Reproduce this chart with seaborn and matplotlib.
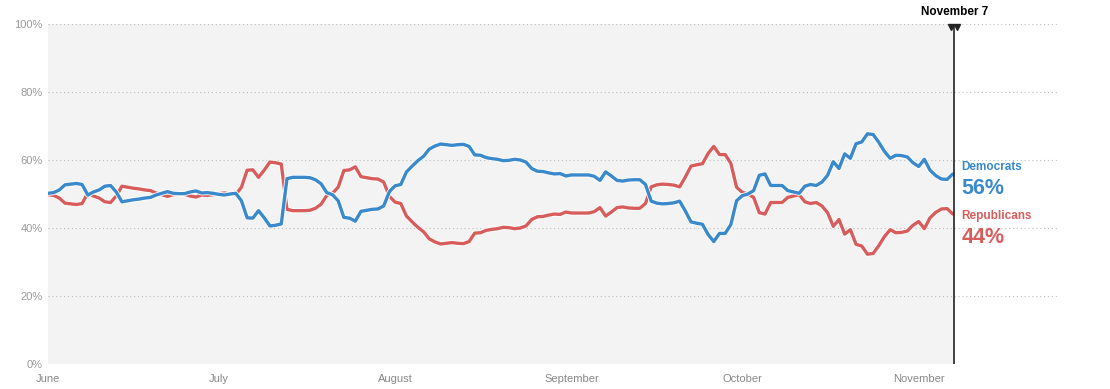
import numpy as np
import pandas as pd
import seaborn as sns
import matplotlib.pyplot as plt
import matplotlib.dates as mdates
import matplotlib.patheffects as pe

# daily share for Democrats, June 1 -> November 7
dem_share = [
    50.2, 50.4, 51.2, 52.7, 52.9, 53.1, 52.8, 49.7, 50.6, 51.2,
    52.3, 52.5, 50.6, 47.7, 48.0, 48.3, 48.5, 48.8, 49.0, 49.7,
    50.2, 50.7, 50.2, 50.1, 50.1, 50.6, 50.9, 50.3, 50.4, 50.2,
    49.9, 49.7, 50.0, 50.2, 48.0, 43.0, 42.9, 45.1, 43.0, 40.6,
    40.8, 41.2, 54.5, 54.9, 54.9, 54.9, 54.8, 54.2, 53.0, 50.4,
    49.8, 48.0, 43.1, 42.9, 42.0, 44.9, 45.2, 45.5, 45.6, 46.5,
    50.7, 52.4, 52.8, 56.5, 58.2, 59.8, 61.1, 63.2, 64.1, 64.7,
    64.5, 64.3, 64.5, 64.6, 64.0, 61.5, 61.4, 60.7, 60.4, 60.2,
    59.8, 59.9, 60.2, 60.0, 59.4, 57.5, 56.7, 56.6, 56.2, 55.9,
    56.0, 55.3, 55.6, 55.6, 55.6, 55.6, 55.2, 54.0, 56.5, 55.3,
    54.0, 53.8, 54.1, 54.2, 54.2, 52.8, 47.9, 47.3, 47.1, 47.2,
    47.4, 47.9, 45.0, 41.8, 41.4, 41.1, 38.1, 36.0, 38.4, 38.4,
    41.0, 48.0, 49.5, 50.0, 51.0, 55.5, 55.9, 52.5, 52.5, 52.5,
    51.0, 50.6, 50.2, 52.3, 52.8, 52.5, 53.5, 55.5, 59.5, 57.5,
    61.8, 60.5, 64.8, 65.3, 67.7, 67.5, 65.2, 62.5, 60.5, 61.4,
    61.3, 60.9, 59.2, 58.1, 60.2, 57.0, 55.4, 54.4, 54.3, 55.9,
]
rep_share = [round(100 - v, 1) for v in dem_share]
dates = pd.date_range("2018-06-01", periods=len(dem_share), freq="D")
parties = ["Democrats", "Republicans"]
colors = {"Democrats": "#3a89cb", "Republicans": "#d75d5d"}
y_ticks = [0, 20, 40, 60, 80, 100]

df = pd.concat([
    pd.DataFrame({"date": dates, "share": rep_share, "party": "Republicans"}),
    pd.DataFrame({"date": dates, "share": dem_share, "party": "Democrats"}),
])

sns.set_style("white")
plt.rcParams["font.family"] = ["Liberation Sans", "DejaVu Sans"]

fig = plt.figure(figsize=(11.1, 3.89), dpi=100)
ax = fig.add_axes([0.0432, 0.0643, 0.909, 0.874])

start = dates[0]
end = dates[-1]
ax.set_xlim(start, start + pd.Timedelta(days=177.3))
ax.set_ylim(0, 100)

ax.axvspan(start, end, color="#f3f3f3", zorder=0, lw=0)

sns.lineplot(data=df, x="date", y="share", hue="party", hue_order=["Republicans", "Democrats"],
             palette=colors, linewidth=2.4, legend=False, ax=ax, zorder=3,
             path_effects=[pe.withStroke(linewidth=3.6, foreground="white")])

# today marker
mark = end + pd.Timedelta(hours=6)
ax.axvline(mark, color="#222222", lw=1.2, zorder=4)
half = pd.Timedelta(hours=12)
ax.plot([mark - half, mark + half], [99.2, 99.2], linestyle="none", marker="v",
        markersize=4, color="#222222", clip_on=False, zorder=5)
ax.text(mark, 103.5, "November 7", ha="center", va="center", fontsize=8.5,
        fontweight="bold", color="black", clip_on=False)

# end labels
lx = end + pd.Timedelta(days=1.5)
for party, vals, dy in [("Democrats", dem_share, 2.1), ("Republicans", rep_share, -0.5)]:
    last = vals[-1]
    ax.text(lx, last + dy, party, color=colors[party], fontsize=8.5, fontweight="bold",
            va="center", ha="left", clip_on=False)
    ax.text(lx, last + dy - 6.5, f"{round(last)}%", color=colors[party], fontsize=15.5,
            fontweight="bold", va="center", ha="left", clip_on=False)

ax.set_yticks(y_ticks)
ax.set_yticklabels([f"{t}%" for t in y_ticks])
ax.yaxis.grid(True, linestyle=(0, (1, 2.5)), color="#bdbdbd", linewidth=0.8)
ax.xaxis.grid(False)
ax.set_axisbelow(True)

ax.xaxis.set_major_locator(mdates.MonthLocator())
ax.xaxis.set_major_formatter(mdates.DateFormatter("%B"))
ax.tick_params(axis="y", length=0, pad=4, labelsize=8, labelcolor="#999999")
ax.tick_params(axis="x", length=4, width=0.8, color="#cccccc", pad=3,
               labelsize=8, labelcolor="#888888", direction="out")
ax.set_xlabel("")
ax.set_ylabel("")
for s in ax.spines.values():
    s.set_visible(False)

fig.savefig("out.png", dpi=100)
